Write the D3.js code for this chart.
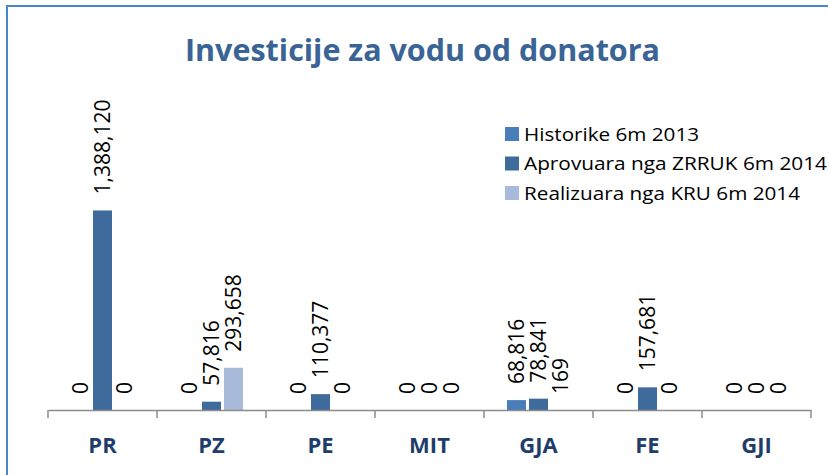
<!DOCTYPE html>
<html>
  <head>
    <meta charset="utf-8">
    <title>Investicije za vodu od donatora</title>
    <style>
      body{
        margin: 0;
        background-color: white;
      }
      svg{
        display: block;
      }
      .lbl{
        font-family: "Open Sans", sans-serif;
        font-size: 21px;
        fill: #000;
      }
    </style>
  </head>
  <body>
    <svg id="chart" width="828" height="475"></svg>
  </body>
  <script src="https://d3js.org/d3.v7.min.js"></script>
  <script>
    var categories = ["PR", "PZ", "PE", "MIT", "GJA", "FE", "GJI"]
    var seriesNames = ["Historike 6m 2013", "Aprovuara nga ZRRUK 6m 2014", "Realizuara nga KRU 6m 2014"]
    var historike = [0, 0, 0, 0, 68816, 0, 0]
    var aprovuara = [1388120, 57816, 110377, 0, 78841, 157681, 0]
    var realizuara = [0, 293658, 0, 0, 169, 0, 0]
    var colors = ["#4A7EBB", "#3F6A9C", "#A8BAD9"]

    var series = [historike, aprovuara, realizuara]

    var svg = d3.select("#chart")

    // border of the chart area (only left and top show)
    svg.append("path")
      .attr("d", "M7,475V6H828")
      .attr("fill", "none")
      .attr("stroke", "#4A86C8")
      .attr("stroke-width", 2)

    svg.append("text")
      .attr("x", 185).attr("y", 61)
      .attr("textLength", 475).attr("lengthAdjust", "spacingAndGlyphs")
      .style("font-family", "'Open Sans', sans-serif")
      .style("font-weight", "bold")
      .style("font-size", "31px")
      .attr("fill", "#3A6396")
      .text("Investicije za vodu od donatora")

    var x = d3.scaleBand().domain(categories).range([48, 811])
    var x1 = d3.scaleBand().domain(d3.range(3)).range([-33, 33])
      .paddingInner(3 / 22).paddingOuter(3 / 44)
    var y = d3.scaleLinear().domain([0, 1600000]).range([410, 180])

    var fmt = d3.format(",")

    var groups = svg.append("g").selectAll("g").data(categories).enter()
      .append("g")
      .attr("transform", function(d){ return "translate(" + (x(d) + x.bandwidth() / 2) + ",0)" })

    groups.each(function(c, ci){
      var g = d3.select(this)
      series.forEach(function(s, si){
        var v = s[ci]
        g.append("rect")
          .attr("x", x1(si)).attr("width", x1.bandwidth())
          .attr("y", y(v)).attr("height", y(0) - y(v))
          .attr("fill", colors[si])
        var cx = x1(si) + x1.bandwidth() / 2
        var ty = y(v) - 16
        g.append("text").attr("class", "lbl")
          .attr("transform", "translate(" + cx + "," + ty + ") rotate(-90)")
          .attr("dy", "0.35em")
          .text(fmt(v))
      })
    })

    // axis
    var axis = svg.append("g").attr("transform", "translate(0,410)")
      .call(d3.axisBottom(x).tickSize(0).tickPadding(27))
    axis.select(".domain").attr("stroke", "#8C8C8C").attr("stroke-width", 1.5)
    axis.selectAll("text")
      .style("font-family", "'Open Sans', sans-serif")
      .style("font-weight", "bold")
      .style("font-size", "22px")
      .attr("fill", "#1F3D6B")
    var bounds = categories.map(function(d){ return x(d) }).concat([x.range()[1]])
    axis.selectAll(".bound").data(bounds).enter().append("line")
      .attr("class", "bound")
      .attr("x1", function(d){ return d }).attr("x2", function(d){ return d })
      .attr("y1", 0).attr("y2", 8)
      .attr("stroke", "#8C8C8C").attr("stroke-width", 1.5)

    // legend
    var legend = svg.append("g").attr("transform", "translate(505,127)")
    var widths = [175, 303, 276]
    seriesNames.forEach(function(n, i){
      var row = legend.append("g").attr("transform", "translate(0," + (i * 29.5) + ")")
      row.append("rect").attr("width", 14).attr("height", 14).attr("fill", colors[i])
      row.append("text")
        .attr("x", 19).attr("y", 13.5)
        .attr("textLength", widths[i]).attr("lengthAdjust", "spacingAndGlyphs")
        .style("font-family", "'Open Sans', sans-serif")
        .style("font-size", "19px")
        .attr("fill", "#000")
        .text(n)
    })
  </script>
</html>
